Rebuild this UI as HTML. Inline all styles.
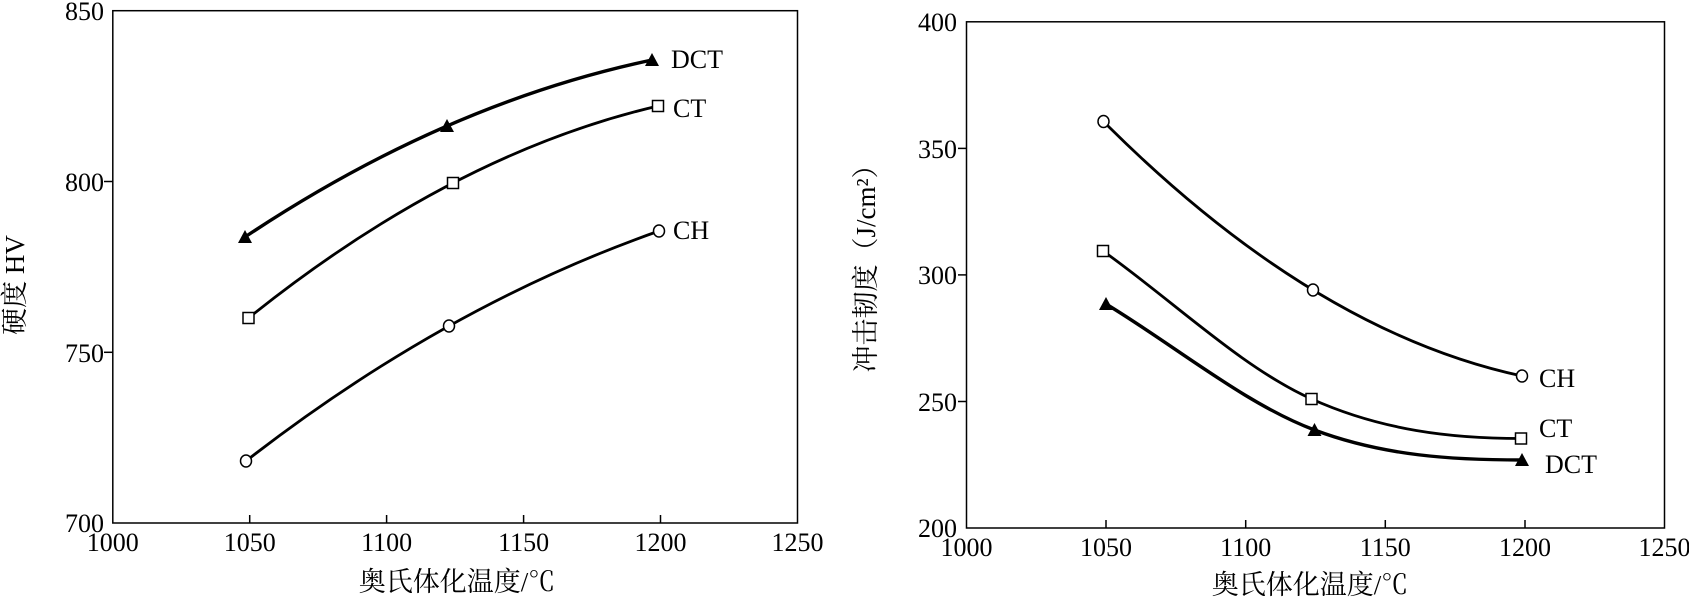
<!DOCTYPE html>
<html><head><meta charset="utf-8"><style>
html,body{margin:0;padding:0;background:#fff;}
svg{display:block;}
text{font-family:"Liberation Serif","Noto Serif CJK SC",serif;fill:#000;}
</style></head><body>
<svg width="1689" height="599" viewBox="0 0 1689 599" xmlns="http://www.w3.org/2000/svg">
<g stroke="#000" fill="none" stroke-width="1.5">
<rect x="112.8" y="10.7" width="684.7" height="512.3"/>
<line x1="104" y1="181.5" x2="112.8" y2="181.5"/>
<line x1="104" y1="352.3" x2="112.8" y2="352.3"/>
<line x1="249.7" y1="523" x2="249.7" y2="515"/>
<line x1="386.6" y1="523" x2="386.6" y2="515"/>
<line x1="523.6" y1="523" x2="523.6" y2="515"/>
<line x1="660.5" y1="523" x2="660.5" y2="515"/>
<rect x="966.5" y="21.8" width="698" height="506.2"/>
<line x1="958" y1="148.4" x2="966.5" y2="148.4"/>
<line x1="958" y1="274.9" x2="966.5" y2="274.9"/>
<line x1="958" y1="401.5" x2="966.5" y2="401.5"/>
<line x1="1106" y1="528" x2="1106" y2="520"/>
<line x1="1245.7" y1="528" x2="1245.7" y2="520"/>
<line x1="1385.3" y1="528" x2="1385.3" y2="520"/>
<line x1="1525" y1="528" x2="1525" y2="520"/>
</g>
<g stroke="#000" fill="none" stroke-width="2.8">
<path d="M245,237 Q445.5,103.5 652,60" stroke-width="3.4"/>
<path d="M248.5,318 Q452.75,154 658,106"/>
<path d="M246,461 Q445.5,306 659,231"/>
<path d="M1103.5,121.5 Q1313.25,331.25 1522,376"/>
<path d="M1103,251 C1172.5,300.3 1241.9,367.75 1311.6,399 C1381.3,430.25 1451,438.5 1521,438.5"/>
<path d="M1106,304 C1175.5,346 1245.2,404 1314.5,430 C1383.8,456 1453,460 1522,460" stroke-width="3.4"/>
</g>
<g fill="#000">
<polygon points="245,230 252,243 238,243"/>
<polygon points="447,119 454,132 440,132"/>
<polygon points="652,53 659,66 645,66"/>
<polygon points="1106,297 1113,310 1099,310"/>
<polygon points="1314.5,423 1321.5,436 1307.5,436"/>
<polygon points="1522,453 1529,466 1515,466"/>
</g>
<g fill="#fff" stroke="#000" stroke-width="1.5">
<rect x="243" y="312.5" width="11" height="11"/>
<rect x="447.5" y="177.5" width="11" height="11"/>
<rect x="652.5" y="100.5" width="11" height="11"/>
<rect x="1097.5" y="245.5" width="11" height="11"/>
<rect x="1306" y="393.5" width="11" height="11"/>
<rect x="1515.5" y="433" width="11" height="11"/>
<ellipse cx="246" cy="461" rx="5.5" ry="6"/>
<ellipse cx="449" cy="326" rx="5.5" ry="6"/>
<ellipse cx="659" cy="231" rx="5.5" ry="6"/>
<ellipse cx="1103.5" cy="121.5" rx="5.5" ry="6"/>
<ellipse cx="1313" cy="290" rx="5.5" ry="6"/>
<ellipse cx="1522" cy="376" rx="5.5" ry="6"/>
</g>
<g font-size="26" text-anchor="end">
<text x="104" y="20">850</text>
<text x="104" y="191">800</text>
<text x="104" y="362">750</text>
<text x="104" y="532">700</text>
<text x="957" y="31">400</text>
<text x="957" y="158">350</text>
<text x="957" y="284">300</text>
<text x="957" y="411">250</text>
<text x="957" y="537">200</text>
</g>
<g font-size="26" text-anchor="middle">
<text x="112.8" y="551">1000</text>
<text x="249.7" y="551">1050</text>
<text x="386.6" y="551">1100</text>
<text x="523.6" y="551">1150</text>
<text x="660.5" y="551">1200</text>
<text x="797.5" y="551">1250</text>
<text x="966.5" y="556">1000</text>
<text x="1106" y="556">1050</text>
<text x="1245.7" y="556">1100</text>
<text x="1385.3" y="556">1150</text>
<text x="1525" y="556">1200</text>
<text x="1664.5" y="556">1250</text>
<text x="457" y="591" font-size="27">奥氏体化温度/℃</text>
<text x="1310" y="594" font-size="27">奥氏体化温度/℃</text>
<text transform="translate(24,285) rotate(-90)" font-size="27">硬度  HV</text>
<text transform="translate(875,262) rotate(-90)" font-size="27">冲击韧度（J/cm²）</text>
</g>
<g font-size="26">
<text x="671" y="68">DCT</text>
<text x="673" y="117">CT</text>
<text x="673" y="239">CH</text>
<text x="1539" y="387">CH</text>
<text x="1539" y="437">CT</text>
<text x="1545" y="473">DCT</text>
</g>
</svg>
</body></html>
